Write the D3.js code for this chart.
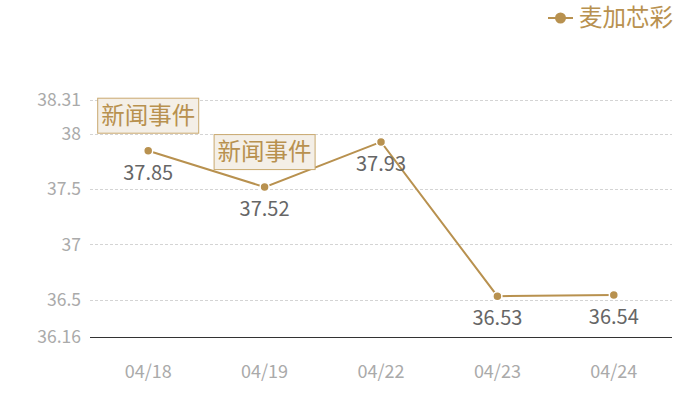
<!DOCTYPE html>
<html>
<head>
<meta charset="utf-8">
<script src="https://cdn.jsdelivr.net/npm/d3@7"></script>
<style>
  body { margin: 0; background: #fff; }
  svg { font-family: "Noto Sans CJK SC", "Noto Sans", sans-serif; }
</style>
</head>
<body>
<svg width="700" height="400"></svg>
<script>
// Price data
const dates = ["04/18", "04/19", "04/22", "04/23", "04/24"];
const prices = [37.85, 37.52, 37.93, 36.53, 36.54];
const yTicks = [36.16, 36.5, 37, 37.5, 38, 38.31];
const events = ["04/18", "04/19"];
const seriesName = "麦加芯彩";

const gold = "#b8914f";
const svg = d3.select("svg");

const margin = { left: 90, right: 28, top: 100, bottom: 63 };
const width = +svg.attr("width");
const height = +svg.attr("height");

const x = d3.scalePoint()
  .domain(dates)
  .range([margin.left, width - margin.right])
  .padding(0.5);

const y = d3.scaleLinear()
  .domain([36.16, 38.31])
  .range([height - margin.bottom, margin.top]);

// Grid lines
svg.append("g")
  .selectAll("line")
  .data(yTicks.slice(1))
  .enter()
  .append("line")
  .attr("x1", margin.left)
  .attr("x2", width - margin.right)
  .attr("y1", (d) => Math.round(y(d)) + 0.5)
  .attr("y2", (d) => Math.round(y(d)) + 0.5)
  .attr("stroke", "#d4d4d4")
  .attr("stroke-dasharray", "3,2");

// Y tick labels
svg.append("g")
  .selectAll("text")
  .data(yTicks)
  .enter()
  .append("text")
  .attr("x", margin.left - 9)
  .attr("y", (d) => y(d))
  .attr("dy", "0.35em")
  .attr("text-anchor", "end")
  .attr("font-size", 17.5)
  .attr("fill", "#aaa")
  .text((d) => d);

// X axis line
svg.append("line")
  .attr("x1", margin.left)
  .attr("x2", width - margin.right)
  .attr("y1", Math.round(y(36.16)) + 0.5)
  .attr("y2", Math.round(y(36.16)) + 0.5)
  .attr("stroke", "#333")
  .attr("stroke-width", 1);

// X tick labels
svg.append("g")
  .selectAll("text")
  .data(dates)
  .enter()
  .append("text")
  .attr("x", (d) => x(d))
  .attr("y", 372)
  .attr("dy", "0.35em")
  .attr("text-anchor", "middle")
  .attr("font-size", 18)
  .attr("fill", "#aaa")
  .text((d) => d);

// Line
const line = d3.line()
  .x((d, i) => x(dates[i]))
  .y((d) => y(d));

svg.append("path")
  .datum(prices)
  .attr("fill", "none")
  .attr("stroke", gold)
  .attr("stroke-width", 2)
  .attr("d", line);

// Points
svg.append("g")
  .selectAll("circle")
  .data(prices)
  .enter()
  .append("circle")
  .attr("cx", (d, i) => x(dates[i]))
  .attr("cy", (d) => y(d))
  .attr("r", 4.5)
  .attr("fill", gold)
  .attr("stroke", "#fff")
  .attr("stroke-width", 1.5);

// Value labels
svg.append("g")
  .selectAll("text")
  .data(prices)
  .enter()
  .append("text")
  .attr("x", (d, i) => x(dates[i]))
  .attr("y", (d) => y(d) + 22)
  .attr("dy", "0.35em")
  .attr("text-anchor", "middle")
  .attr("font-size", 20)
  .attr("fill", "#666")
  .text((d) => d.toFixed(2));

// Event markers
const ev = svg.append("g")
  .selectAll("g")
  .data(events)
  .enter()
  .append("g")
  .attr("transform", (d) => {
    const v = prices[dates.indexOf(d)];
    return `translate(${x(d)}, ${y(v) - 17})`;
  });

ev.append("rect")
  .attr("x", -50.5)
  .attr("y", -35.5)
  .attr("width", 101)
  .attr("height", 35)
  .attr("fill", "#f4efe7")
  .attr("stroke", "#c9a96f")
  .attr("stroke-width", 1);

ev.append("text")
  .attr("x", 0)
  .attr("y", -18)
  .attr("dy", "0.35em")
  .attr("text-anchor", "middle")
  .attr("font-size", 23.5)
  .attr("fill", gold)
  .text("新闻事件");

// Legend
const legend = svg.append("g").attr("transform", "translate(548, 18)");
legend.append("line")
  .attr("x1", 0).attr("x2", 25)
  .attr("stroke", gold)
  .attr("stroke-width", 2);
legend.append("circle")
  .attr("cx", 12.5)
  .attr("r", 5.5)
  .attr("fill", gold);
legend.append("text")
  .attr("x", 31)
  .attr("dy", "0.35em")
  .attr("font-size", 23.5)
  .attr("fill", gold)
  .text(seriesName);
</script>
</body>
</html>
